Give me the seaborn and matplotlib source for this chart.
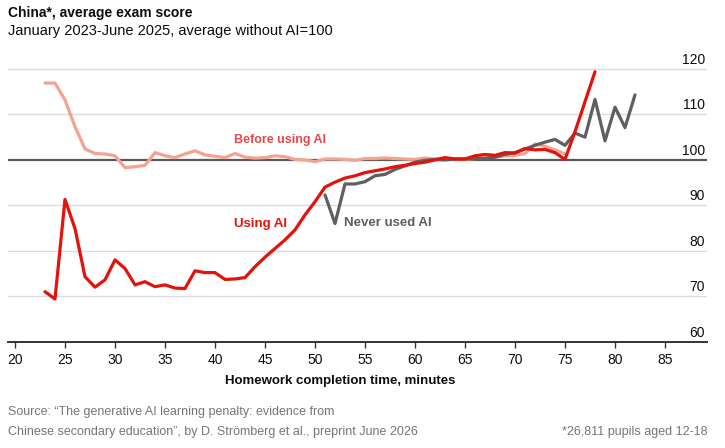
import matplotlib
matplotlib.use("Agg")
import matplotlib.pyplot as plt
import matplotlib.transforms as mtransforms
import numpy as np
import pandas as pd
import seaborn as sns

# minutes and scores
before_min = list(range(23, 76))
before_score = [
    116.9, 116.9, 113.2, 107.3, 102.4, 101.4, 101.3, 100.9, 98.3, 98.5,
    98.8, 101.6, 100.9, 100.5, 101.3, 102.0, 101.1, 100.8, 100.5, 101.4,
    100.6, 100.4, 100.5, 100.9, 100.7, 100.1, 100.0, 99.6, 100.2, 100.2,
    100.1, 99.9, 100.3, 100.3, 100.4, 100.3, 100.2, 100.1, 100.4, 100.2,
    100.3, 100.2, 100.1, 100.3, 100.5, 100.6, 100.9, 101.0, 101.4, 103.5,
    103.0, 102.2, 101.3,
]

using_min = list(range(23, 79))
using_score = [
    71.0, 69.4, 91.3, 84.9, 74.3, 72.0, 73.6, 78.0, 76.1, 72.5,
    73.2, 72.1, 72.5, 71.8, 71.7, 75.6, 75.2, 75.2, 73.7, 73.8,
    74.1, 76.5, 78.6, 80.5, 82.4, 84.6, 87.9, 90.8, 94.0, 95.1,
    96.0, 96.5, 97.2, 97.6, 98.0, 98.5, 98.8, 99.2, 99.5, 100.0,
    100.5, 100.2, 100.2, 100.9, 101.2, 101.0, 101.6, 101.5, 102.5, 102.2,
    102.3, 101.6, 100.1, 106.2, 112.8, 119.4,
]

never_min = list(range(51, 83))
never_score = [
    92.3, 86.0, 94.7, 94.7, 95.2, 96.5, 96.8, 97.9, 98.7, 99.5,
    99.9, 100.1, 100.0, 100.2, 100.2, 100.3, 100.3, 100.6, 101.2, 101.6,
    102.4, 103.2, 103.9, 104.5, 103.2, 105.9, 105.0, 113.3, 104.2, 111.6,
    107.1, 114.3,
]

x_ticks = list(range(20, 90, 5))
y_ticks = [60, 70, 80, 90, 100, 110, 120]

RED = "#e3120b"
PINK = "#f5a391"
GREY = "#5f5f5f"
FONT = ["Liberation Sans Narrow", "Liberation Sans", "DejaVu Sans"]

sns.set_theme(style="white")
plt.rcParams["font.family"] = FONT

before_df = pd.DataFrame({"minutes": before_min, "score": before_score})
using_df = pd.DataFrame({"minutes": using_min, "score": using_score})
never_df = pd.DataFrame({"minutes": never_min, "score": never_score})

fig = plt.figure(figsize=(7.25, 4.48), dpi=100)
ax = fig.add_axes([8 / 725, 1 - 341.7 / 448, 699 / 725, 290.9 / 448])

for v in y_ticks:
    if v in (60, 100):
        continue
    ax.axhline(v, color="#dcdcdc", linewidth=1.0, zorder=0)
ax.axhline(100, color="#595959", linewidth=1.6, zorder=1)

sns.lineplot(data=before_df, x="minutes", y="score", color=PINK, linewidth=2.3, ax=ax, zorder=2)
sns.lineplot(data=never_df, x="minutes", y="score", color=GREY, linewidth=2.3, ax=ax, zorder=3)
sns.lineplot(data=using_df, x="minutes", y="score", color=RED, linewidth=2.3, ax=ax, zorder=4)

ax.set_xlim(19.3, 89.2)
ax.set_ylim(60, 124)
ax.set_xticks(x_ticks)
ax.set_xticklabels([str(t) for t in x_ticks])
ax.set_yticks([])
ax.set_xlabel("")
ax.set_ylabel("")
ax.tick_params(axis="x", bottom=True, length=4, width=1, color="#333333",
               pad=4, labelsize=10, labelcolor="#0d0d0d")
for side in ("left", "right", "top"):
    ax.spines[side].set_visible(False)
ax.spines["bottom"].set_color("#333333")
ax.spines["bottom"].set_linewidth(1.4)

# y labels sit above the gridlines at the right edge
trans = mtransforms.blended_transform_factory(ax.transAxes, ax.transData)
for v in y_ticks:
    ax.text(0.997, v + 0.45, str(v), transform=trans, ha="right", va="bottom",
            fontsize=10, color="#0d0d0d")

ax.text(41.9, 104.4, "Before using AI", color="#e8474a", fontsize=9,
        fontweight="bold", va="center", ha="left")
ax.text(41.9, 85.9, "Using AI", color=RED, fontsize=9.5,
        fontweight="bold", va="center", ha="left")
ax.text(52.9, 86.1, "Never used AI", color=GREY, fontsize=9.5,
        fontweight="bold", va="center", ha="left")

xtrans = mtransforms.blended_transform_factory(ax.transData, fig.transFigure)
ax.text(52.5, 1 - 381 / 448, "Homework completion time, minutes", transform=xtrans,
        ha="center", va="center", fontsize=9.5, fontweight="bold", color="#0d0d0d")

fig.text(8 / 725, 1 - 13 / 448, "China*, average exam score", fontsize=10,
         fontweight="bold", va="center", ha="left", color="#0d0d0d")
fig.text(8 / 725, 1 - 31 / 448, "January 2023-June 2025, average without AI=100",
         fontsize=10.5, va="center", ha="left", color="#0d0d0d")

fig.text(8 / 725, 1 - 412 / 448,
         "Source: \u201cThe generative AI learning penalty: evidence from",
         fontsize=9, va="center", ha="left", color="#767676")
fig.text(8 / 725, 1 - 432 / 448,
         "Chinese secondary education\u201d, by D. Str\u00f6mberg et al., preprint June 2026",
         fontsize=9, va="center", ha="left", color="#767676")
fig.text(707 / 725, 1 - 432 / 448, "*26,811 pupils aged 12-18",
         fontsize=9, va="center", ha="right", color="#767676")

fig.savefig("out.png", dpi=100)
